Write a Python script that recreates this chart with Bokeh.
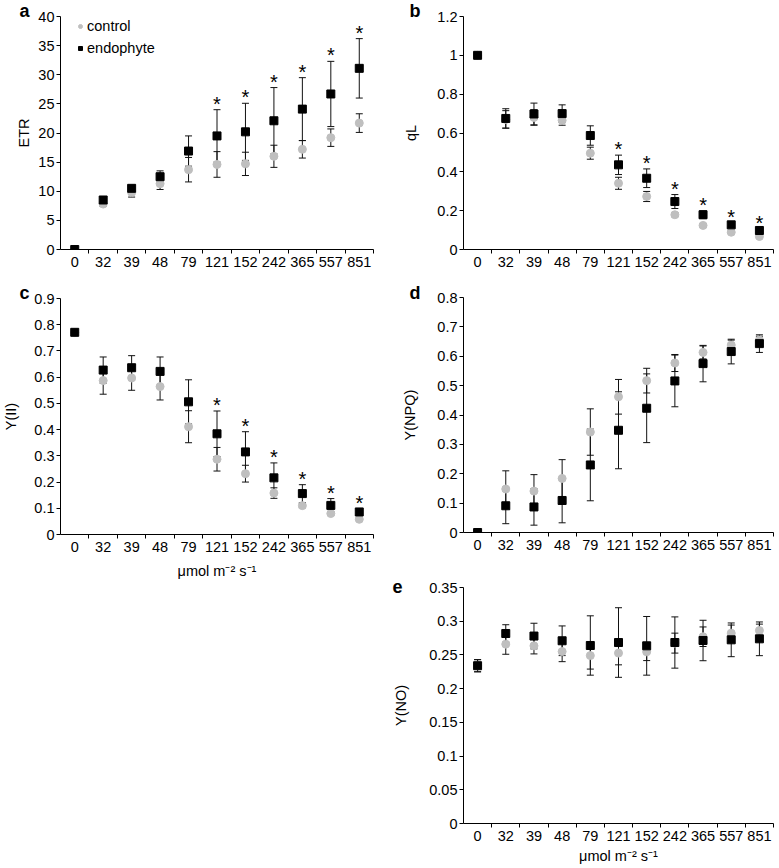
import numpy as np
from bokeh.plotting import figure
from bokeh.models import (ColumnDataSource, Range1d, FixedTicker, NumeralTickFormatter,
                          Whisker, TeeHead, Legend, LegendItem)
from bokeh.layouts import row, column
from bokeh.embed import file_html
from bokeh.resources import INLINE
from bokeh.core.properties import value

# ---------------- data ----------------
categories = ["0", "32", "39", "48", "79", "121", "152", "242", "365", "557", "851"]
x_title = "μmol m⁻² s⁻¹"

etr_ctrl = [0, 7.8, 9.8, 11.3, 13.7, 14.6, 14.7, 16.0, 17.2, 19.2, 21.7]
etr_ctrl_err = [0, 0.4, 0.8, 1.0, 2.1, 2.2, 2.0, 1.9, 1.5, 1.5, 1.6]
etr_endo = [0, 8.5, 10.5, 12.5, 16.9, 19.5, 20.2, 22.1, 24.1, 26.7, 31.1]
etr_endo_err = [0, 0.5, 0.4, 1.0, 2.6, 4.5, 4.9, 5.7, 5.4, 5.6, 5.1]

ql_ctrl = [1.0, 0.67, 0.68, 0.665, 0.496, 0.341, 0.273, 0.179, 0.124, 0.089, 0.067]
ql_ctrl_err = [0, 0.045, 0.04, 0.025, 0.031, 0.031, 0.026, 0.01, 0.008, 0.006, 0.006]
ql_endo = [1.0, 0.675, 0.698, 0.70, 0.587, 0.436, 0.367, 0.247, 0.179, 0.127, 0.098]
ql_endo_err = [0, 0.05, 0.056, 0.045, 0.05, 0.05, 0.048, 0.036, 0.02, 0.012, 0.01]

y2_ctrl = [0.77, 0.587, 0.597, 0.564, 0.411, 0.287, 0.232, 0.158, 0.11, 0.08, 0.058]
y2_ctrl_err = [0, 0.052, 0.047, 0.051, 0.061, 0.045, 0.032, 0.02, 0.008, 0.006, 0.005]
y2_endo = [0.771, 0.627, 0.636, 0.622, 0.506, 0.384, 0.315, 0.216, 0.156, 0.111, 0.086]
y2_endo_err = [0, 0.05, 0.046, 0.055, 0.084, 0.087, 0.077, 0.057, 0.034, 0.026, 0.012]

npq_ctrl = [0, 0.148, 0.141, 0.184, 0.342, 0.462, 0.517, 0.577, 0.613, 0.638, 0.655]
npq_ctrl_err = [0, 0.062, 0.056, 0.064, 0.079, 0.059, 0.042, 0.029, 0.022, 0.017, 0.013]
npq_endo = [0, 0.091, 0.087, 0.109, 0.23, 0.348, 0.423, 0.516, 0.575, 0.616, 0.643]
npq_endo_err = [0, 0.061, 0.062, 0.076, 0.122, 0.131, 0.117, 0.088, 0.062, 0.042, 0.03]

no_ctrl = [0.234, 0.266, 0.2635, 0.255, 0.249, 0.2527, 0.2546, 0.2675, 0.277, 0.2823, 0.2862]
no_ctrl_err = [0.009, 0.015, 0.012, 0.015, 0.02, 0.0174, 0.013, 0.0148, 0.0145, 0.012, 0.0095]
no_endo = [0.234, 0.2818, 0.278, 0.271, 0.264, 0.2684, 0.2635, 0.2684, 0.2714, 0.2724, 0.2739]
no_endo_err = [0.009, 0.013, 0.019, 0.022, 0.044, 0.0516, 0.0435, 0.038, 0.030, 0.025, 0.025]

sig_abc = [False, False, False, False, False, True, True, True, True, True, True]
sig_none = [False] * 11

FONT = "Liberation Sans"
CTRL_COLOR = "#bfbfbf"


def make_panel(letter, ylabel, ctrl, ctrl_err, endo, endo_err, ymax, ystep, sig,
               width, height, borders, letter_offset, letter_standoff, ylabel_standoff,
               xlabel=None, xlabel_standoff=8, legend=False):
    n = len(categories)
    xs = list(range(n))
    bl, br, bt, bb = borders
    p = figure(width=width, height=height, output_backend="svg", toolbar_location=None,
               x_range=Range1d(-0.5, n - 0.5), y_range=Range1d(0, ymax),
               min_border_left=bl, min_border_right=br, min_border_top=bt,
               min_border_bottom=bb)
    p.outline_line_color = None
    p.grid.visible = False
    p.background_fill_color = "white"

    # panel letter as the figure title
    p.title.text = letter
    p.title.align = "left"
    p.title.offset = letter_offset
    p.title.standoff = letter_standoff
    p.title.text_font = FONT
    p.title.text_font_size = "18px"
    p.title.text_font_style = "bold"
    p.title.text_color = "black"

    # x axis: labels at category centres, tick marks between categories
    xa = p.xaxis[0]
    xa.ticker = FixedTicker(ticks=xs, minor_ticks=[i + 0.5 for i in xs])
    xa.major_label_overrides = {i: c for i, c in enumerate(categories)}
    xa.major_tick_out = 0
    xa.major_tick_in = 0
    xa.minor_tick_out = 4
    xa.minor_tick_in = 0
    xa.major_label_standoff = 3
    xa.major_label_text_font = FONT
    xa.major_label_text_font_size = "14.5px"
    xa.major_label_text_color = "black"
    xa.axis_line_color = "black"
    xa.minor_tick_line_color = "black"
    if xlabel:
        xa.axis_label = xlabel
        xa.axis_label_text_font = FONT
        xa.axis_label_text_font_size = "14.5px"
        xa.axis_label_text_font_style = "normal"
        xa.axis_label_text_color = "black"
        xa.axis_label_standoff = xlabel_standoff

    # y axis
    ya = p.yaxis[0]
    nt = int(round(ymax / ystep))
    ya.ticker = FixedTicker(ticks=[round(i * ystep, 4) for i in range(nt + 1)])
    ya.formatter = NumeralTickFormatter(format="0.[00]")
    ya.major_tick_out = 4
    ya.major_tick_in = 0
    ya.minor_tick_out = 0
    ya.minor_tick_in = 0
    ya.major_label_standoff = 2
    ya.major_label_text_font = FONT
    ya.major_label_text_font_size = "14.5px"
    ya.major_label_text_color = "black"
    ya.axis_line_color = "black"
    ya.major_tick_line_color = "black"
    ya.axis_label = ylabel
    ya.axis_label_text_font = FONT
    ya.axis_label_text_font_size = "14.5px"
    ya.axis_label_text_font_style = "normal"
    ya.axis_label_text_color = "black"
    ya.axis_label_standoff = ylabel_standoff

    # error bars
    for vals, errs in ((ctrl, ctrl_err), (endo, endo_err)):
        src = ColumnDataSource(dict(x=xs,
                                    upper=[v + e for v, e in zip(vals, errs)],
                                    lower=[v - e for v, e in zip(vals, errs)]))
        w = Whisker(source=src, base="x", upper="upper", lower="lower",
                    dimension="height", line_color="#111111", line_width=1,
                    upper_head=TeeHead(size=7, line_color="#111111", line_width=1),
                    lower_head=TeeHead(size=7, line_color="#111111", line_width=1))
        p.add_layout(w)

    r_ctrl = p.scatter(xs, ctrl, marker="circle", size=8,
                       fill_color=CTRL_COLOR, line_color=CTRL_COLOR)
    r_endo = p.scatter(xs, endo, marker="square", size=8,
                       fill_color="black", line_color="black")

    # significance asterisks
    sx = [x for x, s in zip(xs, sig) if s]
    sy = [v + e for v, e, s in zip(endo, endo_err, sig) if s]
    if sx:
        p.text(x=sx, y=sy, text=["*"] * len(sx), text_font=value(FONT),
               text_font_size="20px", text_align="center",
               text_baseline="alphabetic", y_offset=-6, text_color="black")

    if legend:
        lg = Legend(items=[LegendItem(label="control", renderers=[r_ctrl]),
                           LegendItem(label="endophyte", renderers=[r_endo])],
                    location=(15, 191), orientation="vertical",
                    border_line_alpha=0, background_fill_alpha=0,
                    padding=0, margin=0, spacing=2,
                    glyph_width=10, glyph_height=20, label_height=20,
                    label_standoff=2, label_text_font=FONT,
                    label_text_font_size="14.5px", label_text_color="black")
        p.add_layout(lg)
    return p


WL, WR = 390, 389

# left column: a (0..283), c (283..583)
pa = make_panel("a", "ETR", etr_ctrl, etr_ctrl_err, etr_endo, etr_endo_err,
                40, 5, sig_abc, WL, 283, (53, 17, 16, 34), -41, -9, 3, legend=True)
pc = make_panel("c", "Y(II)", y2_ctrl, y2_ctrl_err, y2_endo, y2_endo_err,
                0.9, 0.1, sig_abc, WL, 300, (53, 17, 15, 49), -41, -9, 12,
                xlabel=x_title)
# right column: b (0..284), d (284..574), e (574..867)
pb = make_panel("b", "qL", ql_ctrl, ql_ctrl_err, ql_endo, ql_endo_err,
                1.2, 0.2, sig_abc, WR, 284, (68, 6, 16, 35), -54, -9, 15)
pd = make_panel("d", "Y(NPQ)", npq_ctrl, npq_ctrl_err, npq_endo, npq_endo_err,
                0.8, 0.1, sig_none, WR, 290, (67, 6, 13, 42), -54, -11, 16)
pe = make_panel("e", "Y(NO)", no_ctrl, no_ctrl_err, no_endo, no_endo_err,
                0.35, 0.05, sig_none, WR, 293, (67, 6, 13, 44), -71, -11, 17,
                xlabel=x_title, xlabel_standoff=4)

layout = row(column(pa, pc), column(pb, pd, pe))

open("out.html", "w").write(file_html(layout, INLINE))
